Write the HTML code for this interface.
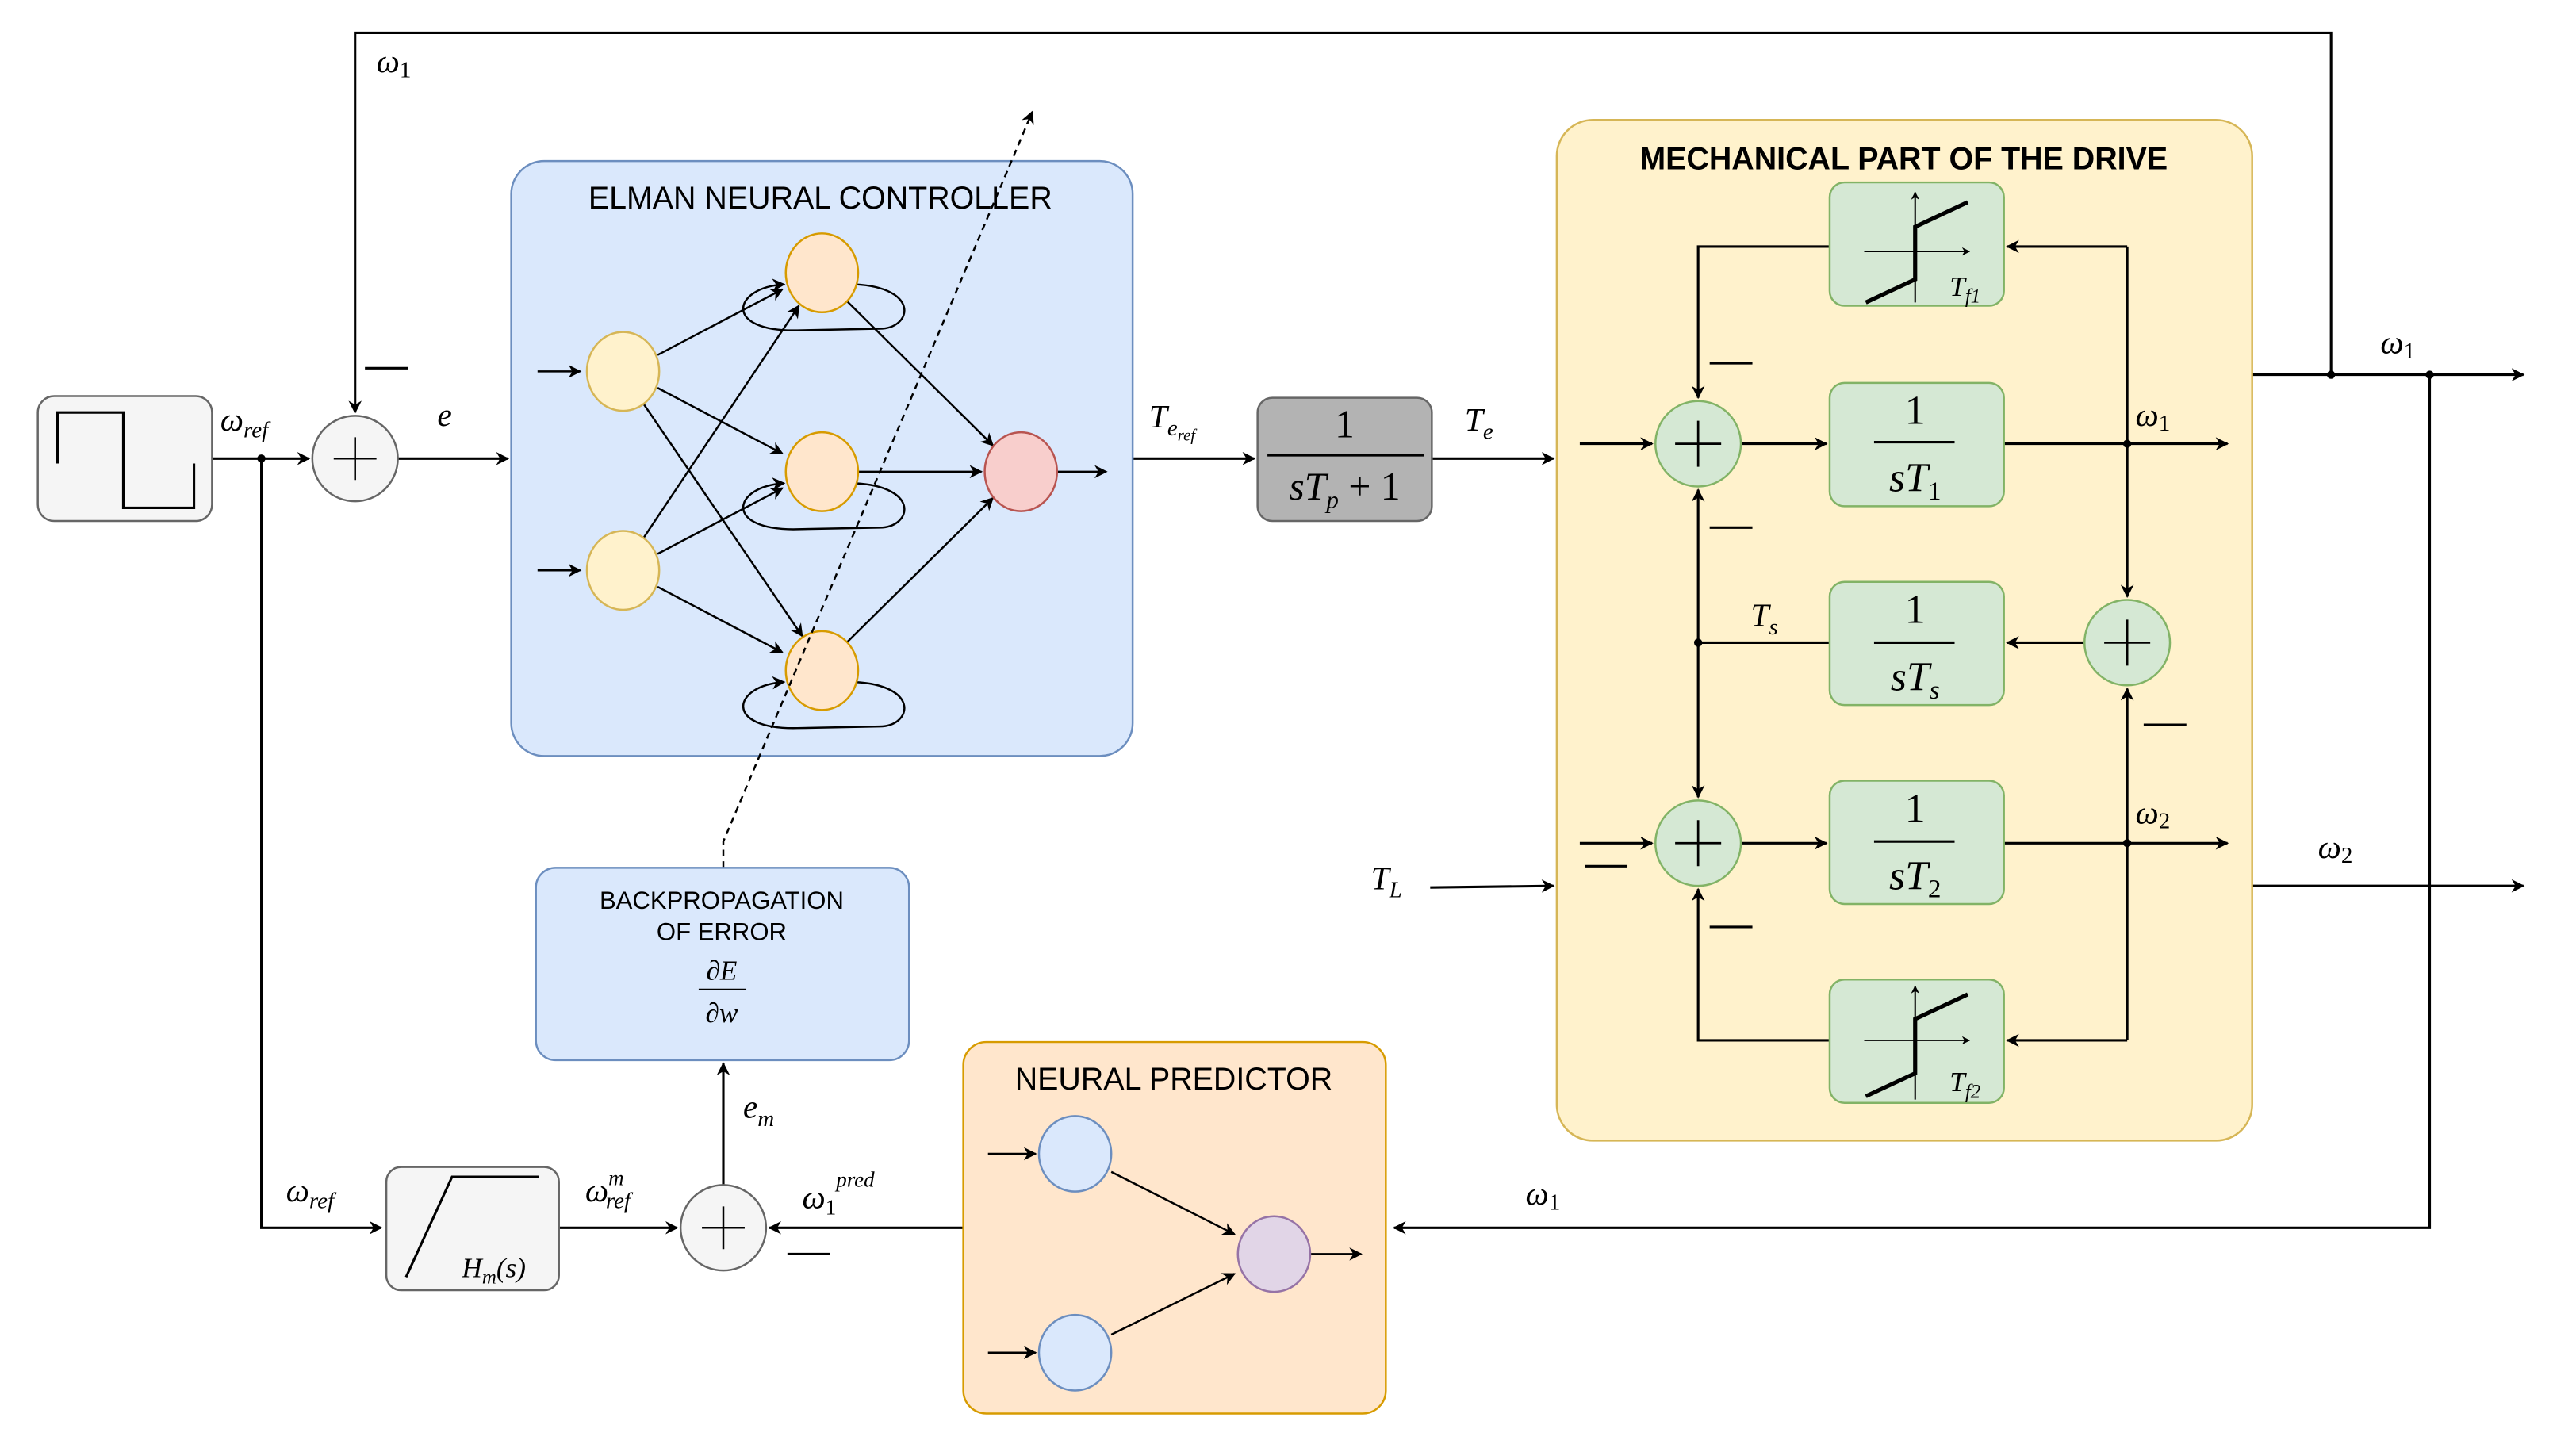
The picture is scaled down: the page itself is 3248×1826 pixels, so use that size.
<!DOCTYPE html>
<html><head><meta charset="utf-8"><style>
html,body{margin:0;padding:0;background:#fff}
svg{display:block}
text{font-family:"Liberation Sans",sans-serif}
.m{font-family:"Liberation Serif",serif;font-style:italic}
.r{font-family:"Liberation Serif",serif}
</style></head><body>
<svg width="3248" height="1826" viewBox="0 0 1567 881" preserveAspectRatio="none" xmlns="http://www.w3.org/2000/svg">
<defs>
<marker id="a" viewBox="0 0 10 10" refX="9" refY="5" markerWidth="8" markerHeight="8" orient="auto" markerUnits="userSpaceOnUse"><path d="M0,0 L10,5 L0,10 L3,5 z" fill="#000"/></marker>
<marker id="s" viewBox="0 0 10 10" refX="9" refY="5" markerWidth="5" markerHeight="5" orient="auto" markerUnits="userSpaceOnUse"><path d="M0,0 L10,5 L0,10 L3,5 z" fill="#000"/></marker>
</defs>
<g fill="none" stroke="#000" stroke-width="1.5">
<path d="M1418,228 V20 H216 V251" marker-end="url(#a)"/>
<path d="M129,279 H188" marker-end="url(#a)"/>
<path d="M242,279 H309" marker-end="url(#a)"/>
<path d="M159,279 V747 H232" marker-end="url(#a)"/>
<path d="M689,279 H763" marker-end="url(#a)"/>
<path d="M871,279 H945" marker-end="url(#a)"/>
<path d="M870,540 L945,539" marker-end="url(#a)"/>
<path d="M1370,228 H1535" marker-end="url(#a)"/>
<path d="M1370,539 H1535" marker-end="url(#a)"/>
<path d="M1478,228 V747 H848" marker-end="url(#a)"/>
<path d="M586,747 H468" marker-end="url(#a)"/>
<path d="M340,747 H412" marker-end="url(#a)"/>
<path d="M440,721 V647" marker-end="url(#a)"/>
</g>
<rect x="23" y="241" width="106" height="76" rx="10" fill="#f5f5f5" stroke="#666" stroke-width="1.2"/>
<path d="M35,282 V251 H75 V309 H118 V282" fill="none" stroke="#000" stroke-width="1.5"/>
<circle cx="216" cy="279" r="26" fill="#f5f5f5" stroke="#666" stroke-width="1.2"/>
<path d="M203,279 H229 M216,266 V292" stroke="#000" stroke-width="1.2"/>
<rect x="311" y="98" width="378" height="362" rx="20" fill="#dae8fc" stroke="#6c8ebf" stroke-width="1.2"/>
<text x="499" y="127" font-size="19" text-anchor="middle">ELMAN NEURAL CONTROLLER</text>
<g fill="none" stroke="#000" stroke-width="1.2">
<path d="M327,226 H353" marker-end="url(#a)"/>
<path d="M327,347 H353" marker-end="url(#a)"/>
<path d="M400,216 L476,176" marker-end="url(#a)"/>
<path d="M400,236 L476,276" marker-end="url(#a)"/>
<path d="M391,245 L488,387" marker-end="url(#a)"/>
<path d="M391,328 L486,186" marker-end="url(#a)"/>
<path d="M400,337 L476,297" marker-end="url(#a)"/>
<path d="M400,357 L476,397" marker-end="url(#a)"/>
<path d="M515,183 L604,271" marker-end="url(#a)"/>
<path d="M522,287 L597,287" marker-end="url(#a)"/>
<path d="M515,391 L604,303" marker-end="url(#a)"/>
<path d="M643,287 H673" marker-end="url(#a)"/>
<path d="M520,173 C560,175 555,200 535,200 L485,201 C440,202 445,175 477,173" marker-end="url(#a)"/>
<path d="M520,294 C560,296 555,321 535,321 L485,322 C440,323 445,296 477,294" marker-end="url(#a)"/>
<path d="M520,415 C560,417 555,442 535,442 L485,443 C440,444 445,417 477,415" marker-end="url(#a)"/>
</g>
<g stroke-width="1.2">
<ellipse cx="379" cy="226" rx="22" ry="24" fill="#fff2cc" stroke="#d6b656"/>
<ellipse cx="379" cy="347" rx="22" ry="24" fill="#fff2cc" stroke="#d6b656"/>
<ellipse cx="500" cy="166" rx="22" ry="24" fill="#ffe6cc" stroke="#d79b00"/>
<ellipse cx="500" cy="287" rx="22" ry="24" fill="#ffe6cc" stroke="#d79b00"/>
<ellipse cx="500" cy="408" rx="22" ry="24" fill="#ffe6cc" stroke="#d79b00"/>
<ellipse cx="621" cy="287" rx="22" ry="24" fill="#f8cecc" stroke="#b85450"/>
</g>
<path d="M440,528 V512 L628,68" fill="none" stroke="#000" stroke-width="1.2" stroke-dasharray="4,3" marker-end="url(#a)"/>
<rect x="765" y="242" width="106" height="75" rx="9" fill="#b3b3b3" stroke="#666" stroke-width="1.2"/>
<text x="818" y="266" font-size="24" text-anchor="middle" class="r">1</text>
<line x1="771" y1="277" x2="866" y2="277" stroke="#000" stroke-width="1.5"/>
<text x="818" y="304" font-size="24" text-anchor="middle" class="m">sT<tspan font-size="15" dy="5">p</tspan><tspan dy="-5" class="r" font-style="normal"> + 1</tspan></text>
<rect x="947" y="73" width="423" height="621" rx="22" fill="#fff2cc" stroke="#d6b656" stroke-width="1.2"/>
<text x="1158" y="103" font-size="19" font-weight="bold" text-anchor="middle">MECHANICAL PART OF THE DRIVE</text>
<g fill="none" stroke="#000" stroke-width="1.5">
<path d="M961,270 H1005" marker-end="url(#a)"/>
<path d="M1059,270 H1111" marker-end="url(#a)"/>
<path d="M1219,270 H1355" marker-end="url(#a)"/>
<path d="M961,513 H1005" marker-end="url(#a)"/>
<path d="M1059,513 H1111" marker-end="url(#a)"/>
<path d="M1219,513 H1355" marker-end="url(#a)"/>
<path d="M1294,150 V363" marker-end="url(#a)"/>
<path d="M1294,150 H1221" marker-end="url(#a)"/>
<path d="M1113,150 H1033 V242" marker-end="url(#a)"/>
<path d="M1268,391 H1221" marker-end="url(#a)"/>
<path d="M1113,391 H1033"/>
<path d="M1033,391 V298" marker-end="url(#a)"/>
<path d="M1033,391 V485" marker-end="url(#a)"/>
<path d="M1294,633 V419" marker-end="url(#a)"/>
<path d="M1294,633 H1221" marker-end="url(#a)"/>
<path d="M1113,633 H1033 V541" marker-end="url(#a)"/>
</g>
<g fill="#000"><circle cx="159" cy="279" r="2.5"/><circle cx="1294" cy="270" r="2.5"/><circle cx="1294" cy="513" r="2.5"/><circle cx="1033" cy="391" r="2.5"/><circle cx="1418" cy="228" r="2.5"/><circle cx="1478" cy="228" r="2.5"/></g>
<g fill="#d5e8d4" stroke="#82b366" stroke-width="1.2">
<rect x="1113" y="111" width="106" height="75" rx="9"/>
<rect x="1113" y="233" width="106" height="75" rx="9"/>
<rect x="1113" y="354" width="106" height="75" rx="9"/>
<rect x="1113" y="475" width="106" height="75" rx="9"/>
<rect x="1113" y="596" width="106" height="75" rx="9"/>
<circle cx="1033" cy="270" r="26"/><circle cx="1033" cy="513" r="26"/><circle cx="1294" cy="391" r="26"/>
</g>
<path d="M1019,270 H1047 M1033,256 V284 M1019,513 H1047 M1033,499 V527 M1280,391 H1308 M1294,377 V405" stroke="#000" stroke-width="1.3"/>
<g fill="none" stroke="#000">
<path d="M1134,153 H1198" stroke-width="0.8" marker-end="url(#s)"/>
<path d="M1165,184 V117" stroke-width="1" marker-end="url(#s)"/>
<path d="M1135,184 L1165,170 V138 L1197,123" stroke-width="2.5"/>
<path d="M1134,633 H1198" stroke-width="0.8" marker-end="url(#s)"/>
<path d="M1165,669 V600" stroke-width="1" marker-end="url(#s)"/>
<path d="M1135,667 L1165,653 V620 L1197,605" stroke-width="2.5"/>
</g>
<text x="1186" y="180" font-size="17" class="m">T<tspan font-size="12" dy="4">f1</tspan></text>
<text x="1186" y="664" font-size="17" class="m">T<tspan font-size="12" dy="4">f2</tspan></text>
<g font-size="25" text-anchor="middle">
<text x="1165" y="258" class="r">1</text><text x="1165" y="299" class="m">sT<tspan font-size="16" dy="5" class="r" font-style="normal">1</tspan></text>
<text x="1165" y="379" class="r">1</text><text x="1165" y="420" class="m">sT<tspan font-size="16" dy="5">s</tspan></text>
<text x="1165" y="500" class="r">1</text><text x="1165" y="541" class="m">sT<tspan font-size="16" dy="5" class="r" font-style="normal">2</tspan></text>
</g>
<path d="M1140,269 H1189 M1140,391 H1189 M1140,512 H1189" stroke="#000" stroke-width="1.5"/>
<path d="M222,224 H248 M1040,221 H1066 M1040,321 H1066 M1304,441 H1330 M964,527 H990 M1040,564 H1066 M479,763 H505" stroke="#000" stroke-width="1.5"/>
<g font-size="20">
<text x="229" y="44" class="m">ω<tspan class="r" font-style="normal" font-size="14" dy="3">1</tspan></text>
<text x="134" y="262" class="m">ω<tspan font-size="14" dy="4">ref</tspan></text>
<text x="266" y="259" class="m">e</text>
<text x="699" y="260" class="m">T<tspan font-size="14" dy="5">e</tspan><tspan font-size="10" dy="3">ref</tspan></text>
<text x="891" y="262" class="m">T<tspan font-size="14" dy="5">e</tspan></text>
<text x="834" y="541" class="m">T<tspan font-size="14" dy="5">L</tspan></text>
<text x="1065" y="381" class="m">T<tspan font-size="14" dy="5">s</tspan></text>
<text x="1299" y="259" class="m">ω<tspan class="r" font-style="normal" font-size="14" dy="3">1</tspan></text>
<text x="1299" y="501" class="m">ω<tspan class="r" font-style="normal" font-size="14" dy="3">2</tspan></text>
<text x="1448" y="215" class="m">ω<tspan class="r" font-style="normal" font-size="14" dy="3">1</tspan></text>
<text x="1410" y="522" class="m">ω<tspan class="r" font-style="normal" font-size="14" dy="3">2</tspan></text>
<text x="928" y="733" class="m">ω<tspan class="r" font-style="normal" font-size="14" dy="3">1</tspan></text>
<text x="174" y="731" class="m">ω<tspan font-size="14" dy="4">ref</tspan></text>
<text x="356" y="731" class="m">ω<tspan font-size="13" dy="-10">m</tspan><tspan font-size="14" dx="-11" dy="14">ref</tspan></text>
<text x="488" y="735" class="m">ω<tspan class="r" font-style="normal" font-size="13" dy="4">1</tspan><tspan font-size="13" dy="-17">pred</tspan></text>
<text x="452" y="680" class="m">e<tspan font-size="14" dy="5">m</tspan></text>
</g>
<rect x="326" y="528" width="227" height="117" rx="12" fill="#dae8fc" stroke="#6c8ebf" stroke-width="1.2"/>
<text x="439" y="553" font-size="15" text-anchor="middle">BACKPROPAGATION</text>
<text x="439" y="572" font-size="15" text-anchor="middle">OF ERROR</text>
<text x="439" y="596" font-size="17" text-anchor="middle" class="m">∂E</text>
<line x1="425" y1="602" x2="454" y2="602" stroke="#000" stroke-width="1"/>
<text x="439" y="622" font-size="17" text-anchor="middle" class="m">∂w</text>
<rect x="235" y="710" width="105" height="75" rx="9" fill="#f5f5f5" stroke="#666" stroke-width="1.2"/>
<path d="M247,777 L275,716 H328" fill="none" stroke="#000" stroke-width="1.5"/>
<text x="281" y="777" font-size="17" class="m">H<tspan font-size="12" dy="4">m</tspan><tspan dy="-4" font-size="17">(s)</tspan></text>
<circle cx="440" cy="747" r="26" fill="#f5f5f5" stroke="#666" stroke-width="1.2"/>
<path d="M427,747 H453 M440,734 V760" stroke="#000" stroke-width="1.2"/>
<rect x="586" y="634" width="257" height="226" rx="14" fill="#ffe6cc" stroke="#d79b00" stroke-width="1.2"/>
<text x="714" y="663" font-size="19" text-anchor="middle">NEURAL PREDICTOR</text>
<g fill="none" stroke="#000" stroke-width="1.2">
<path d="M601,702 H630" marker-end="url(#a)"/>
<path d="M601,823 H630" marker-end="url(#a)"/>
<path d="M676,713 L751,751" marker-end="url(#a)"/>
<path d="M676,812 L751,775" marker-end="url(#a)"/>
<path d="M797,763 H828" marker-end="url(#a)"/>
</g>
<ellipse cx="654" cy="702" rx="22" ry="23" fill="#dae8fc" stroke="#6c8ebf" stroke-width="1.2"/>
<ellipse cx="654" cy="823" rx="22" ry="23" fill="#dae8fc" stroke="#6c8ebf" stroke-width="1.2"/>
<ellipse cx="775" cy="763" rx="22" ry="23" fill="#e1d5e7" stroke="#9673a6" stroke-width="1.2"/>
</svg>
</body></html>
